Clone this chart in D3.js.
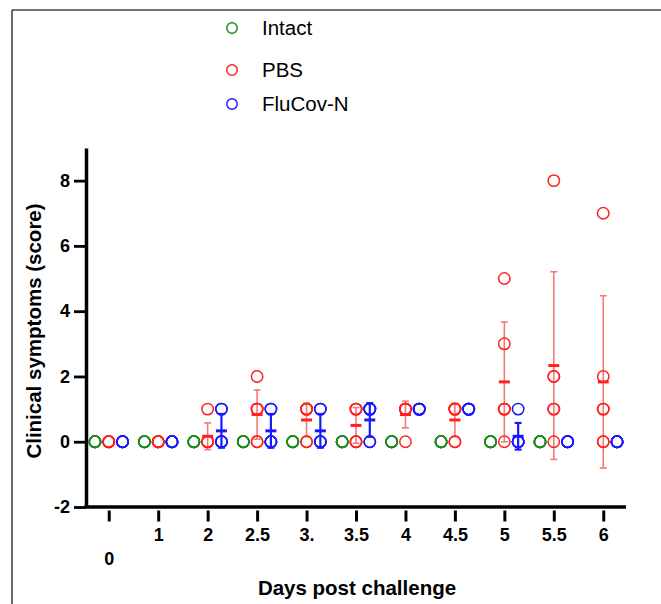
<!DOCTYPE html>
<html>
<head>
<meta charset="utf-8">
<script src="https://cdn.jsdelivr.net/npm/d3@7"></script>
<style>
  html, body { margin: 0; padding: 0; background: #fff; }
  svg { display: block; font-family: "Liberation Sans", Arial, sans-serif; }
</style>
</head>
<body>
<svg id="chart" width="661" height="604"></svg>
<script>
// ---- data ----
const days = ['0', '1', '2', '2.5', '3.', '3.5', '4', '4.5', '5', '5.5', '6'];
const seriesNames = ['Intact', 'PBS', 'FluCov-N'];
const seriesColors = ['#1f8a1f', '#ff2020', '#1a1aff'];
const intact = [
  [0,0,0,0,0,0],[0,0,0,0,0,0],[0,0,0,0,0,0],[0,0,0,0,0,0],[0,0,0,0,0,0],
  [0,0,0,0,0,0],[0,0,0,0,0,0],[0,0,0,0,0,0],[0,0,0,0,0,0],[0,0,0,0,0,0],[]
];
const pbs = [
  [0,0,0,0,0,0],[0,0,0,0,0,0],[1,0,0,0,0,0],[2,1,1,1,0,0],[1,1,1,1,0,0],
  [1,1,1,0,0,0],[1,1,1,1,1,0],[1,1,1,1,0,0],[5,3,1,1,1,0],[8,2,2,1,1,0],[7,2,1,1,0,0]
];
const flucov = [
  [0,0,0,0,0,0],[0,0,0,0,0,0],[1,1,0,0,0,0],[1,1,0,0,0,0],[1,1,0,0,0,0],
  [1,1,1,1,0,0],[1,1,1,1,1,1],[1,1,1,1,1,1],[1,0,0,0,0,0],[0,0,0,0,0,0],[0,0,0,0,0,0]
];
const yTicks = [-2, 0, 2, 4, 6, 8];
const allSeries = [intact, pbs, flucov];

// ---- layout ----
const svg = d3.select('#chart');
const xLeft = 86, xRight = 626;
const x = d3.scalePoint().domain(days).range([xLeft, xRight]).padding(0.46);
const y = d3.scaleLinear().domain([-2, 9]).range([507, 148]);
const off = d3.scalePoint().domain(seriesNames).range([-13.8, 13.8]);
const FONT = '"Liberation Sans", Arial, sans-serif';

// frame lines
svg.append('line').attr('x1', 12).attr('x2', 661).attr('y1', 10).attr('y2', 10)
  .attr('stroke', '#444').attr('stroke-width', 1.6);
svg.append('line').attr('x1', 12).attr('x2', 12).attr('y1', 10).attr('y2', 604)
  .attr('stroke', '#444').attr('stroke-width', 1.6);

// y axis
const yAxis = d3.axisLeft(y).tickValues(yTicks).tickSize(12).tickSizeOuter(0).tickPadding(4)
  .tickFormat(d => d);
const gy = svg.append('g').attr('transform', `translate(${xLeft},0)`).call(yAxis);
gy.select('.domain').attr('stroke', '#000').attr('stroke-width', 3.5);
gy.selectAll('.tick line').attr('stroke', '#000').attr('stroke-width', 2.8);
gy.selectAll('.tick text').attr('fill', '#000').attr('font-size', 18).attr('font-weight', 'bold')
  .attr('font-family', FONT);

// x axis line
svg.append('line').attr('x1', xLeft - 1.75).attr('x2', xRight).attr('y1', y(-2)).attr('y2', y(-2))
  .attr('stroke', '#000').attr('stroke-width', 3.5);
const xAxis = d3.axisBottom(x).tickSize(11).tickSizeOuter(0).tickPadding(7);
const gx = svg.append('g').attr('transform', `translate(0,${y(-2) + 3.5})`).call(xAxis);
gx.select('.domain').remove();
gx.selectAll('.tick line').attr('stroke', '#000').attr('stroke-width', 3);
gx.selectAll('.tick text').attr('fill', '#000').attr('font-size', 18).attr('font-weight', 'bold')
  .attr('font-family', FONT)
  .attr('dy', (d, i) => i === 0 ? '2.0em' : '0.71em');

// axis titles
svg.append('text').attr('transform', `translate(41,331) rotate(-90)`)
  .attr('text-anchor', 'middle').attr('font-size', 20.5).attr('font-weight', 'bold')
  .text('Clinical symptoms (score)');
svg.append('text').attr('x', 357).attr('y', 595)
  .attr('text-anchor', 'middle').attr('font-size', 20.5).attr('font-weight', 'bold')
  .text('Days post challenge');

// ---- marks ----
const errLayer = svg.append('g');
const ptLayer = svg.append('g');
const meanLayer = svg.append('g');

allSeries.forEach((ser, si) => {
  const name = seriesNames[si];
  const col = seriesColors[si];
  const errCol = si === 1 ? '#f27b7b' : col;
  const errW = si === 1 ? 1.6 : 2.2;
  ser.forEach((vals, di) => {
    if (!vals.length) return;
    const cx = x(days[di]) + off(name);
    const m = d3.mean(vals);
    const sd = vals.length > 1 ? d3.deviation(vals) : 0;
    if (sd > 0) {
      errLayer.append('line').attr('x1', cx).attr('x2', cx)
        .attr('y1', y(m + sd)).attr('y2', y(m - sd))
        .attr('stroke', errCol).attr('stroke-width', errW);
      [m + sd, m - sd].forEach(v => {
        errLayer.append('line').attr('x1', cx - 3.5).attr('x2', cx + 3.5)
          .attr('y1', y(v)).attr('y2', y(v))
          .attr('stroke', errCol).attr('stroke-width', errW);
      });
    }
    vals.forEach(v => {
      ptLayer.append('circle').attr('cx', cx).attr('cy', y(v)).attr('r', 5.7)
        .attr('fill', 'none').attr('stroke', col).attr('stroke-width', 1.5);
    });
    if (sd > 0) {
      meanLayer.append('line').attr('x1', cx - 5.5).attr('x2', cx + 5.5)
        .attr('y1', y(m)).attr('y2', y(m))
        .attr('stroke', col).attr('stroke-width', 3);
    }
  });
});

// ---- legend ----
const legY = [28, 70, 104];
seriesNames.forEach((n, i) => {
  svg.append('circle').attr('cx', 232).attr('cy', legY[i]).attr('r', 5.2)
    .attr('fill', 'none').attr('stroke', seriesColors[i]).attr('stroke-width', 1.5);
  svg.append('text').attr('x', 262).attr('y', legY[i]).attr('dy', '0.36em')
    .attr('font-size', 20.5).attr('fill', '#000').text(n);
});
</script>
</body>
</html>
